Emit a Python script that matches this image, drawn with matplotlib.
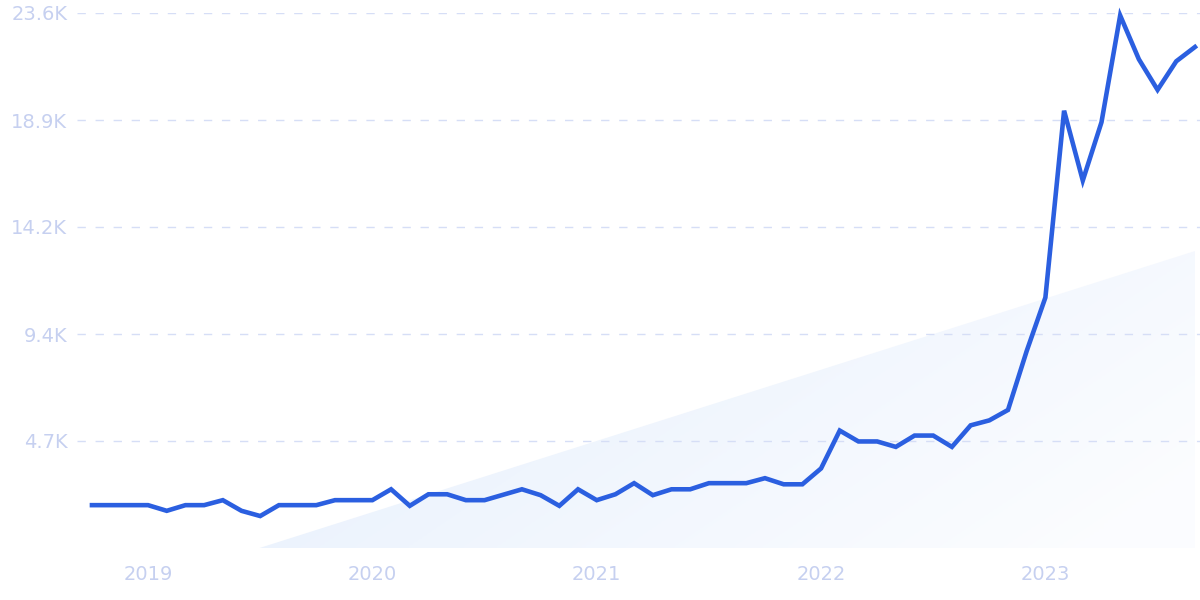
import numpy as np
import pandas as pd
import matplotlib
matplotlib.use('Agg')
import matplotlib.pyplot as plt
from matplotlib.patches import Polygon

# monthly search volume (thousands), Oct 2018 - Sep 2023
months = pd.date_range('2018-10-01', periods=60, freq='MS')
volume = [1.89, 1.89, 1.89, 1.89, 1.64, 1.89, 1.89, 2.11, 1.64, 1.41,
          1.89, 1.89, 1.89, 2.11, 2.11, 2.11, 2.59, 1.86, 2.37, 2.37,
          2.11, 2.11, 2.35, 2.59, 2.33, 1.86, 2.59, 2.11, 2.37, 2.86,
          2.33, 2.59, 2.59, 2.86, 2.86, 2.86, 3.08, 2.81, 2.81, 3.51,
          5.18, 4.70, 4.70, 4.46, 4.96, 4.96, 4.46, 5.41, 5.63, 6.09,
          8.69, 11.05, 19.29, 16.21, 18.78, 23.49, 21.56, 20.21, 21.47, 22.10]
y_ticks = [4.72, 9.44, 14.16, 18.88, 23.6]
y_labels = ['4.7K', '9.4K', '14.2K', '18.9K', '23.6K']
years = ['2019', '2020', '2021', '2022', '2023']

line_col = '#2b5fe0'
text_col = '#c6d0f0'
grid_col = '#d6def6'

x = np.arange(len(volume))
year_pos = [i for i, m in enumerate(months) if m.month == 1]

fig = plt.figure(figsize=(12, 6), dpi=100)
ax = fig.add_axes([77/1200, 52/600, 1123/1200, 535/600])
ax.set_xlim(-0.8, 59.27)
ax.set_ylim(0, 23.6)

# soft gradient wedge in the background
x0, x1, ytop = 8.96, 59, 13.1
gx, gy = np.meshgrid(np.linspace(0, 1, 200), np.linspace(0, 1, 100))
t = np.clip(0.75 * gx + 0.35 * (1 - gy), 0, 1)
c0 = np.array([0.895, 0.935, 0.99])
c1 = np.array([0.985, 0.99, 1.0])
img = c0 * (1 - t[..., None]) + c1 * t[..., None]
im = ax.imshow(img, extent=[x0, x1, 0, ytop], origin='lower', aspect='auto', zorder=0)
wedge = Polygon([[x0, 0], [x1, ytop], [x1, 0]], closed=True, transform=ax.transData,
                facecolor='none', edgecolor='none')
ax.add_patch(wedge)
im.set_clip_path(wedge)

for yt in y_ticks:
    ax.axhline(yt, color=grid_col, lw=1, dashes=(6, 7), zorder=1)

ax.plot(x, volume, color=line_col, lw=3.3, solid_joinstyle='miter', zorder=3, clip_on=False)

ax.set_yticks(y_ticks)
ax.set_yticklabels(y_labels)
ax.set_xticks(year_pos)
ax.set_xticklabels(years)
ax.tick_params(axis='both', length=0, labelsize=14, labelcolor=text_col)
ax.tick_params(axis='y', pad=7)
ax.tick_params(axis='x', pad=12)
for s in ax.spines.values():
    s.set_visible(False)
ax.set_facecolor('white')

fig.savefig('out.png', dpi=100)
